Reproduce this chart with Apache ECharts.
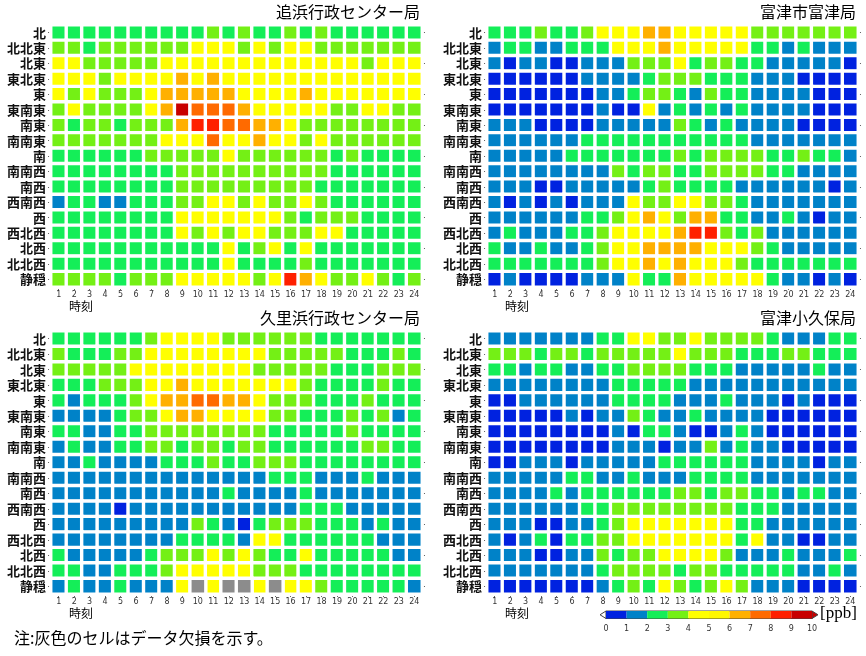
<!DOCTYPE html>
<html><head><meta charset="utf-8">
<script src="https://cdn.jsdelivr.net/npm/echarts@6/dist/echarts.min.js"></script>
<style>html,body{margin:0;padding:0;background:#fff}#c{width:866px;height:656px}</style>
</head><body><div id="c"></div>
<script>
// ---------- data ----------
const hours = ['1','2','3','4','5','6','7','8','9','10','11','12','13','14','15','16','17','18','19','20','21','22','23','24'];
const directions = ['北','北北東','北東','東北東','東','東南東','南東','南南東','南','南南西','南西','西南西','西','西北西','北西','北北西','静穏'];
const stationNames = ['追浜行政センター局','富津市富津局','久里浜行政センター局','富津小久保局'];
const legendTicks = [0,1,2,3,4,5,6,7,8,9,10];
const legendBins = [[0,1],[1,2],[2,3],[3,4],[4,5],[5,6],[6,7],[7,8],[8,9],[9,10]];

// values in ppb (class mid-values), rows follow `directions`, columns 1..24h; null = missing
const oppama = [
 [2.5,2.5,2.5,2.5,2.5,2.5,2.5,2.5,2.5,2.5,3.5,2.5,3.5,2.5,2.5,3.5,2.5,3.5,2.5,2.5,2.5,2.5,2.5,2.5],
 [3.5,3.5,2.5,3.5,3.5,3.5,3.5,3.5,3.5,4.5,4.5,4.5,3.5,4.5,3.5,4.5,4.5,3.5,3.5,3.5,3.5,3.5,3.5,3.5],
 [4.5,4.5,3.5,3.5,3.5,3.5,3.5,4.5,4.5,4.5,4.5,4.5,4.5,4.5,4.5,4.5,4.5,4.5,4.5,4.5,3.5,4.5,4.5,4.5],
 [4.5,4.5,4.5,3.5,4.5,4.5,4.5,4.5,6.5,4.5,6.5,4.5,4.5,4.5,4.5,4.5,4.5,4.5,4.5,4.5,4.5,4.5,4.5,4.5],
 [4.5,3.5,4.5,3.5,3.5,3.5,4.5,6.5,6.5,6.5,6.5,6.5,4.5,4.5,4.5,4.5,6.5,4.5,4.5,4.5,4.5,4.5,4.5,4.5],
 [3.5,4.5,3.5,3.5,3.5,3.5,4.5,6.5,9.5,7.5,7.5,7.5,6.5,4.5,4.5,4.5,4.5,4.5,3.5,3.5,4.5,4.5,3.5,3.5],
 [3.5,2.5,3.5,3.5,2.5,3.5,3.5,3.5,6.5,8.5,8.5,7.5,7.5,6.5,6.5,4.5,3.5,3.5,3.5,3.5,3.5,3.5,3.5,3.5],
 [3.5,3.5,3.5,3.5,3.5,3.5,3.5,4.5,4.5,4.5,7.5,4.5,4.5,6.5,4.5,4.5,3.5,4.5,3.5,3.5,3.5,3.5,3.5,3.5],
 [2.5,2.5,2.5,2.5,2.5,2.5,3.5,3.5,3.5,3.5,3.5,4.5,3.5,3.5,3.5,3.5,3.5,3.5,2.5,3.5,2.5,2.5,2.5,2.5],
 [2.5,2.5,2.5,2.5,2.5,2.5,2.5,2.5,3.5,3.5,3.5,3.5,3.5,3.5,3.5,3.5,3.5,3.5,2.5,2.5,2.5,2.5,2.5,2.5],
 [2.5,2.5,2.5,2.5,2.5,2.5,2.5,2.5,3.5,3.5,3.5,3.5,3.5,3.5,3.5,3.5,3.5,2.5,2.5,2.5,2.5,2.5,2.5,2.5],
 [1.5,2.5,2.5,1.5,1.5,2.5,2.5,2.5,3.5,3.5,4.5,4.5,3.5,4.5,3.5,3.5,4.5,3.5,2.5,2.5,2.5,2.5,2.5,2.5],
 [2.5,2.5,2.5,2.5,2.5,2.5,2.5,2.5,4.5,4.5,4.5,4.5,4.5,4.5,4.5,3.5,2.5,3.5,3.5,3.5,2.5,2.5,2.5,2.5],
 [2.5,2.5,2.5,2.5,2.5,2.5,2.5,2.5,4.5,3.5,4.5,3.5,4.5,4.5,3.5,3.5,3.5,4.5,4.5,2.5,2.5,2.5,2.5,2.5],
 [2.5,2.5,2.5,2.5,2.5,2.5,2.5,2.5,2.5,2.5,2.5,4.5,2.5,3.5,4.5,2.5,4.5,2.5,2.5,2.5,2.5,2.5,2.5,2.5],
 [2.5,2.5,2.5,2.5,2.5,2.5,2.5,2.5,2.5,2.5,2.5,4.5,2.5,2.5,2.5,2.5,3.5,2.5,2.5,2.5,2.5,2.5,2.5,2.5],
 [3.5,3.5,3.5,3.5,2.5,3.5,3.5,3.5,4.5,4.5,4.5,4.5,4.5,3.5,4.5,8.5,6.5,4.5,3.5,3.5,4.5,3.5,2.5,3.5]
];
const futtsu = [
 [2.5,2.5,2.5,3.5,2.5,2.5,3.5,4.5,4.5,4.5,6.5,6.5,4.5,4.5,4.5,4.5,4.5,3.5,3.5,3.5,3.5,3.5,3.5,3.5],
 [1.5,2.5,2.5,1.5,1.5,2.5,2.5,2.5,4.5,4.5,4.5,6.5,4.5,4.5,4.5,4.5,4.5,2.5,2.5,1.5,2.5,1.5,1.5,1.5],
 [1.5,0.5,1.5,1.5,0.5,0.5,1.5,1.5,1.5,3.5,3.5,3.5,4.5,2.5,3.5,3.5,2.5,2.5,1.5,1.5,1.5,1.5,1.5,0.5],
 [0.5,0.5,0.5,0.5,0.5,0.5,1.5,1.5,1.5,1.5,2.5,3.5,3.5,3.5,2.5,2.5,2.5,1.5,1.5,1.5,0.5,0.5,0.5,0.5],
 [0.5,0.5,0.5,0.5,0.5,0.5,0.5,1.5,1.5,2.5,3.5,3.5,2.5,1.5,3.5,2.5,2.5,1.5,1.5,1.5,1.5,0.5,0.5,0.5],
 [0.5,0.5,0.5,0.5,0.5,0.5,0.5,1.5,0.5,0.5,4.5,1.5,2.5,1.5,2.5,1.5,2.5,1.5,1.5,1.5,1.5,0.5,0.5,0.5],
 [1.5,1.5,1.5,0.5,0.5,0.5,0.5,1.5,1.5,1.5,1.5,1.5,3.5,2.5,1.5,2.5,1.5,1.5,1.5,1.5,0.5,0.5,0.5,0.5],
 [1.5,1.5,1.5,1.5,1.5,1.5,2.5,2.5,2.5,2.5,2.5,2.5,2.5,2.5,2.5,2.5,2.5,1.5,1.5,1.5,1.5,1.5,1.5,1.5],
 [1.5,1.5,1.5,1.5,1.5,2.5,2.5,2.5,2.5,2.5,2.5,2.5,3.5,2.5,3.5,3.5,3.5,3.5,2.5,2.5,3.5,2.5,2.5,1.5],
 [1.5,1.5,1.5,1.5,1.5,1.5,1.5,1.5,3.5,2.5,3.5,3.5,2.5,2.5,3.5,3.5,3.5,3.5,2.5,2.5,1.5,1.5,1.5,1.5],
 [1.5,1.5,1.5,0.5,0.5,1.5,1.5,1.5,1.5,1.5,2.5,3.5,2.5,2.5,2.5,2.5,1.5,1.5,1.5,1.5,1.5,1.5,0.5,1.5],
 [1.5,0.5,1.5,0.5,1.5,0.5,1.5,1.5,1.5,4.5,3.5,3.5,4.5,4.5,3.5,3.5,2.5,1.5,1.5,1.5,1.5,1.5,1.5,1.5],
 [1.5,1.5,1.5,1.5,1.5,1.5,2.5,2.5,3.5,4.5,6.5,4.5,3.5,6.5,6.5,2.5,2.5,1.5,1.5,2.5,1.5,0.5,1.5,1.5],
 [1.5,2.5,1.5,1.5,1.5,2.5,2.5,3.5,4.5,4.5,4.5,4.5,6.5,8.5,8.5,3.5,2.5,3.5,1.5,1.5,1.5,1.5,1.5,1.5],
 [2.5,1.5,1.5,2.5,1.5,1.5,2.5,3.5,4.5,4.5,6.5,6.5,6.5,6.5,4.5,4.5,4.5,3.5,2.5,1.5,1.5,1.5,1.5,1.5],
 [2.5,2.5,2.5,2.5,2.5,2.5,2.5,3.5,4.5,4.5,6.5,4.5,6.5,4.5,4.5,4.5,3.5,2.5,2.5,2.5,2.5,2.5,2.5,2.5],
 [0.5,1.5,0.5,0.5,0.5,0.5,1.5,1.5,1.5,4.5,2.5,2.5,6.5,4.5,4.5,4.5,4.5,4.5,2.5,1.5,1.5,0.5,1.5,0.5]
];
const kurihama = [
 [2.5,2.5,2.5,2.5,2.5,2.5,3.5,4.5,4.5,4.5,4.5,3.5,3.5,3.5,3.5,3.5,3.5,2.5,2.5,2.5,2.5,2.5,2.5,2.5],
 [3.5,2.5,2.5,2.5,3.5,3.5,4.5,4.5,4.5,4.5,4.5,4.5,4.5,4.5,3.5,3.5,3.5,3.5,3.5,2.5,2.5,2.5,3.5,2.5],
 [3.5,3.5,3.5,3.5,3.5,4.5,4.5,4.5,4.5,4.5,4.5,4.5,4.5,3.5,3.5,3.5,3.5,3.5,2.5,2.5,2.5,3.5,3.5,3.5],
 [2.5,2.5,2.5,3.5,3.5,3.5,4.5,4.5,6.5,4.5,4.5,4.5,4.5,4.5,4.5,4.5,3.5,2.5,2.5,2.5,2.5,3.5,2.5,2.5],
 [2.5,1.5,2.5,2.5,2.5,3.5,4.5,6.5,6.5,7.5,7.5,6.5,6.5,4.5,3.5,3.5,3.5,2.5,2.5,2.5,3.5,2.5,2.5,2.5],
 [1.5,1.5,1.5,1.5,2.5,3.5,3.5,4.5,6.5,6.5,4.5,4.5,4.5,4.5,3.5,3.5,2.5,2.5,2.5,3.5,2.5,3.5,1.5,2.5],
 [2.5,2.5,1.5,1.5,2.5,2.5,3.5,3.5,3.5,3.5,3.5,3.5,3.5,3.5,2.5,2.5,2.5,2.5,2.5,3.5,2.5,2.5,2.5,2.5],
 [1.5,2.5,1.5,1.5,2.5,2.5,3.5,3.5,2.5,3.5,3.5,2.5,3.5,3.5,2.5,2.5,2.5,2.5,2.5,2.5,3.5,3.5,2.5,2.5],
 [1.5,1.5,2.5,1.5,1.5,1.5,1.5,2.5,2.5,2.5,3.5,2.5,2.5,3.5,3.5,3.5,2.5,2.5,2.5,2.5,2.5,2.5,2.5,2.5],
 [1.5,1.5,1.5,1.5,1.5,1.5,1.5,1.5,1.5,1.5,1.5,1.5,1.5,1.5,2.5,2.5,2.5,1.5,1.5,1.5,2.5,1.5,1.5,1.5],
 [1.5,1.5,1.5,1.5,1.5,1.5,1.5,1.5,1.5,1.5,1.5,2.5,1.5,1.5,1.5,1.5,2.5,1.5,1.5,1.5,1.5,1.5,1.5,1.5],
 [1.5,1.5,1.5,1.5,0.5,1.5,1.5,1.5,1.5,1.5,1.5,1.5,1.5,1.5,1.5,1.5,2.5,2.5,2.5,1.5,1.5,1.5,1.5,1.5],
 [1.5,1.5,1.5,1.5,1.5,1.5,1.5,1.5,1.5,3.5,2.5,1.5,0.5,2.5,3.5,3.5,3.5,2.5,2.5,2.5,1.5,2.5,1.5,1.5],
 [1.5,1.5,1.5,1.5,1.5,1.5,1.5,1.5,2.5,2.5,2.5,2.5,1.5,4.5,4.5,2.5,2.5,2.5,2.5,2.5,2.5,1.5,1.5,1.5],
 [2.5,1.5,1.5,1.5,1.5,1.5,2.5,3.5,3.5,3.5,4.5,3.5,4.5,3.5,2.5,2.5,4.5,2.5,2.5,2.5,2.5,2.5,1.5,1.5],
 [2.5,2.5,1.5,1.5,2.5,2.5,2.5,3.5,4.5,4.5,4.5,4.5,4.5,3.5,3.5,3.5,2.5,2.5,2.5,2.5,2.5,2.5,2.5,2.5],
 [1.5,2.5,1.5,1.5,2.5,1.5,1.5,1.5,4.5,null,4.5,null,null,4.5,null,4.5,4.5,3.5,2.5,2.5,2.5,2.5,2.5,1.5]
];
const kokubo = [
 [1.5,1.5,1.5,1.5,1.5,1.5,1.5,2.5,2.5,4.5,4.5,3.5,3.5,4.5,3.5,3.5,3.5,3.5,2.5,1.5,1.5,1.5,2.5,2.5],
 [3.5,3.5,3.5,2.5,3.5,3.5,2.5,3.5,3.5,3.5,3.5,3.5,4.5,3.5,3.5,3.5,2.5,2.5,2.5,3.5,3.5,2.5,2.5,2.5],
 [2.5,2.5,1.5,2.5,2.5,1.5,1.5,2.5,2.5,3.5,3.5,3.5,3.5,2.5,2.5,2.5,1.5,1.5,1.5,1.5,1.5,2.5,1.5,1.5],
 [1.5,1.5,1.5,1.5,1.5,1.5,1.5,1.5,2.5,2.5,2.5,2.5,2.5,1.5,1.5,1.5,1.5,1.5,1.5,1.5,1.5,1.5,1.5,1.5],
 [0.5,0.5,1.5,1.5,1.5,1.5,1.5,1.5,2.5,2.5,2.5,2.5,1.5,1.5,1.5,2.5,1.5,1.5,1.5,0.5,1.5,0.5,0.5,0.5],
 [0.5,0.5,0.5,0.5,0.5,1.5,0.5,1.5,1.5,3.5,2.5,1.5,1.5,2.5,1.5,1.5,1.5,1.5,0.5,0.5,0.5,0.5,0.5,0.5],
 [0.5,0.5,0.5,0.5,0.5,0.5,0.5,0.5,1.5,0.5,2.5,2.5,1.5,0.5,0.5,1.5,2.5,1.5,0.5,0.5,0.5,0.5,0.5,0.5],
 [0.5,0.5,0.5,0.5,0.5,0.5,0.5,0.5,1.5,1.5,1.5,0.5,1.5,1.5,3.5,1.5,2.5,1.5,1.5,0.5,0.5,0.5,0.5,0.5],
 [0.5,0.5,1.5,1.5,1.5,0.5,1.5,1.5,1.5,1.5,1.5,2.5,2.5,2.5,2.5,2.5,2.5,1.5,1.5,1.5,1.5,0.5,1.5,1.5],
 [1.5,1.5,1.5,1.5,1.5,2.5,2.5,1.5,1.5,2.5,1.5,1.5,1.5,2.5,2.5,2.5,2.5,1.5,1.5,1.5,1.5,1.5,1.5,1.5],
 [1.5,1.5,1.5,1.5,2.5,1.5,2.5,2.5,2.5,2.5,2.5,2.5,3.5,3.5,2.5,3.5,3.5,2.5,2.5,1.5,2.5,2.5,1.5,1.5],
 [1.5,1.5,1.5,1.5,1.5,1.5,2.5,2.5,3.5,3.5,3.5,3.5,3.5,3.5,3.5,3.5,2.5,2.5,2.5,1.5,1.5,1.5,1.5,1.5],
 [1.5,1.5,1.5,0.5,0.5,1.5,1.5,2.5,3.5,4.5,4.5,4.5,4.5,4.5,4.5,4.5,2.5,2.5,1.5,1.5,1.5,1.5,1.5,1.5],
 [1.5,0.5,1.5,2.5,0.5,2.5,2.5,3.5,3.5,4.5,4.5,4.5,4.5,4.5,4.5,4.5,2.5,4.5,1.5,1.5,0.5,0.5,1.5,1.5],
 [1.5,1.5,1.5,0.5,0.5,1.5,1.5,3.5,2.5,3.5,3.5,4.5,4.5,4.5,4.5,3.5,1.5,1.5,1.5,2.5,1.5,1.5,1.5,2.5],
 [1.5,1.5,1.5,1.5,1.5,1.5,1.5,2.5,3.5,3.5,3.5,3.5,2.5,3.5,3.5,2.5,2.5,2.5,2.5,2.5,1.5,1.5,2.5,1.5],
 [0.5,0.5,0.5,0.5,0.5,0.5,0.5,1.5,2.5,3.5,2.5,4.5,3.5,2.5,3.5,4.5,3.5,1.5,1.5,1.5,0.5,0.5,0.5,0.5]
];
const panels = [oppama, futtsu, kurihama, kokubo];

// ---------- style ----------
const bandColors = ['#0022e0','#0082c8','#14ee58','#74f015','#ffff00','#fff700','#ffb000','#ff6a00','#ff2000','#c80000'];
const missingColor = '#8c8c8c';
const CJK = '"Noto Sans CJK JP","Noto Sans",sans-serif';
const gridPos = [
  {left:51, top:25, width:371, height:262},
  {left:487, top:25, width:371, height:262},
  {left:51, top:331, width:371, height:263},
  {left:487, top:331, width:371, height:263}
];

const grid=[], xAxis=[], yAxis=[], series=[], heatIdx=[];
const graphic=[];
panels.forEach((rows, p) => {
  grid.push(Object.assign({show:true, borderColor:'#7a7a7a', borderWidth:1.5, backgroundColor:'#fff'}, gridPos[p]));
  xAxis.push({type:'category', data:hours, gridIndex:p, position:'bottom',
    axisLine:{show:false}, axisTick:{show:true, alignWithLabel:true, length:3, lineStyle:{color:'#666'}},
    axisLabel:{fontSize:8, color:'#333', margin:4, fontFamily:'"DejaVu Sans",sans-serif', interval:0}, splitLine:{show:false}});
  yAxis.push({type:'category', data:directions, inverse:true, gridIndex:p,
    axisLine:{show:false}, axisTick:{show:true, alignWithLabel:true, length:3, lineStyle:{color:'#666'}},
    axisLabel:{fontSize:13, color:'#111', margin:5, fontWeight:'bold', fontFamily:CJK, interval:0}});
  yAxis.push({type:'category', data:directions, inverse:true, gridIndex:p, position:'right',
    axisLine:{show:false}, axisTick:{show:true, alignWithLabel:true, length:3, lineStyle:{color:'#666'}},
    axisLabel:{show:false}});
  const heat=[], miss=[];
  rows.forEach((row, r) => row.forEach((v, c) => {
    if (v === null) miss.push([c, r, 0]); else heat.push([c, r, v]);
  }));
  heatIdx.push(series.length);
  series.push({type:'heatmap', xAxisIndex:p, yAxisIndex:2*p, data:heat,
    itemStyle:{borderColor:'#fff', borderWidth:3.4}, emphasis:{disabled:true}});
  series.push({type:'heatmap', xAxisIndex:p, yAxisIndex:2*p, data:miss,
    itemStyle:{color:missingColor, borderColor:'#fff', borderWidth:3.4}, emphasis:{disabled:true}});
  const g = gridPos[p];
  graphic.push({type:'text', right: 866-(g.left+g.width)+2, top: g.top-21,
    style:{text:stationNames[p], font:'16px '+CJK, fill:'#000'}});
  graphic.push({type:'text', left: g.left+18, top: g.top+g.height+13,
    style:{text:'時刻', font:'12px '+CJK, fill:'#000'}});
});

// colorbar grid
const cb = {left:606, top:611, width:206, height:7.5};
grid.push(Object.assign({show:true, borderColor:'#444', borderWidth:1}, cb));
xAxis.push({type:'value', gridIndex:4, min:0, max:10, interval:1,
  axisLine:{show:false}, axisTick:{show:false}, splitLine:{show:false},
  axisLabel:{fontSize:8, color:'#333', margin:6, fontFamily:'"DejaVu Sans",sans-serif'}});
yAxis.push({type:'value', gridIndex:4, min:0, max:1, show:false});
series.push({type:'custom', xAxisIndex:4, yAxisIndex:8, data:legendBins,
  renderItem:(params, api) => {
    const a = api.coord([api.value(0), 1]);
    const b = api.coord([api.value(1), 0]);
    return {type:'rect', shape:{x:a[0], y:a[1], width:b[0]-a[0], height:b[1]-a[1]},
      style:{fill:bandColors[params.dataIndex]}};
  }});
graphic.push({type:'polygon', shape:{points:[[606,611],[606,618.5],[600,614.75]]}, style:{fill:'#fff', stroke:'#444', lineWidth:1}});
graphic.push({type:'polygon', shape:{points:[[812,611],[812,618.5],[818,614.75]]}, style:{fill:bandColors[9], stroke:'#444', lineWidth:1}});
graphic.push({type:'text', left:820, top:605, style:{text:'[ppb]', font:'17px "Liberation Serif","DejaVu Serif",serif', fill:'#000'}});
graphic.push({type:'text', left:14, top:630, style:{text:'注:灰色のセルはデータ欠損を示す。', font:'16px '+CJK, fill:'#000'}});

const chart = echarts.init(document.getElementById('c'), null, {renderer:'canvas'});
chart.setOption({
  animation:false,
  backgroundColor:'#fff',
  grid, xAxis, yAxis, series, graphic,
  visualMap:{type:'piecewise', show:false, seriesIndex:heatIdx, dimension:2,
    pieces: legendBins.map((b,i)=>({gte:b[0], lt:b[1], color:bandColors[i]}))}
});
</script></body></html>
